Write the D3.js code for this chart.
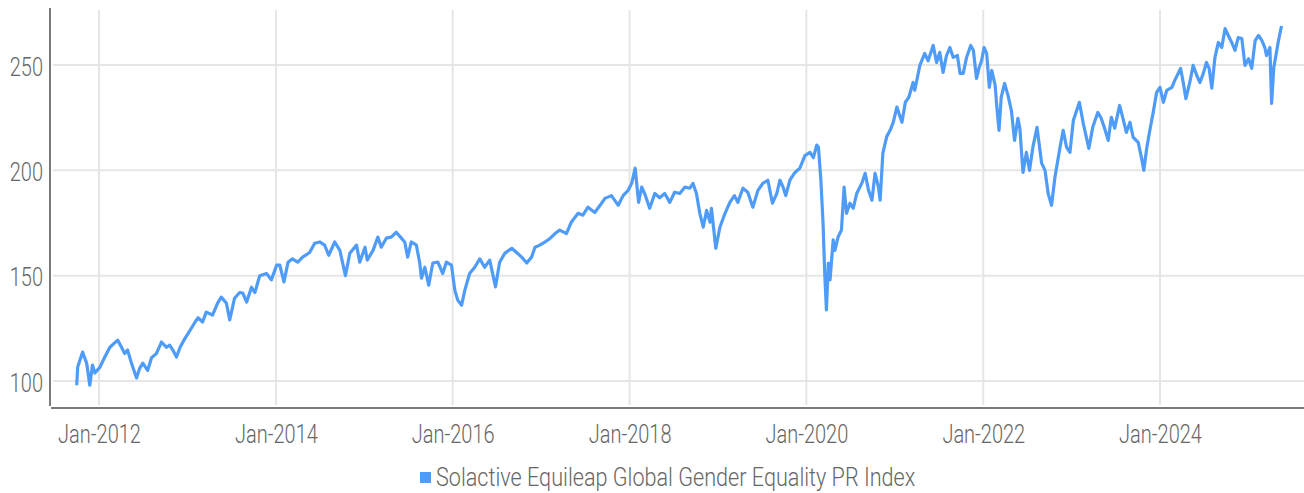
<!DOCTYPE html>
<html>
<head>
<meta charset="utf-8">
<script src="https://cdn.jsdelivr.net/npm/d3@7.9.0/dist/d3.min.js"></script>
<style>
  html, body { margin: 0; padding: 0; background: #fff; }
  svg { display: block; font-family: Roboto, 'Noto Sans', sans-serif; }
  .label { fill: #666; font-size: 25px; font-weight: 300; }
</style>
</head>
<body>
<svg id="chart" width="1304" height="493"></svg>
<script>
const seriesName = 'Solactive Equileap Global Gender Equality PR Index';
const yTicks = [100, 150, 200, 250];
const xTickYears = [2012, 2014, 2016, 2018, 2020, 2022, 2024];

// index level, roughly twice a month
const dates = [
  '2011-10-01', '2011-10-05', '2011-10-25', '2011-11-11', '2011-11-24', '2011-12-05', '2011-12-15',
  '2012-01-05', '2012-01-25', '2012-02-15', '2012-03-18', '2012-04-03', '2012-04-16', '2012-04-28', '2012-05-14',
  '2012-06-04', '2012-06-17', '2012-06-30', '2012-07-20', '2012-08-05', '2012-08-25', '2012-09-15', '2012-10-06',
  '2012-10-19', '2012-11-01', '2012-11-16', '2012-12-01', '2012-12-20',
  '2013-01-11', '2013-02-01', '2013-02-13', '2013-03-04', '2013-03-19', '2013-04-14', '2013-05-05', '2013-05-20',
  '2013-06-10', '2013-06-24', '2013-07-14', '2013-08-04', '2013-08-17', '2013-09-02', '2013-09-22', '2013-10-06',
  '2013-10-26', '2013-11-23', '2013-12-13',
  '2014-01-04', '2014-01-17', '2014-02-03', '2014-02-20', '2014-03-10', '2014-04-01', '2014-04-21', '2014-05-20',
  '2014-06-10', '2014-07-01', '2014-07-21', '2014-08-07', '2014-09-01', '2014-09-22', '2014-10-15', '2014-11-02',
  '2014-11-30', '2014-12-13',
  '2015-01-04', '2015-01-13', '2015-02-06', '2015-02-26', '2015-03-12', '2015-04-02', '2015-04-22', '2015-05-13',
  '2015-06-03', '2015-06-17', '2015-06-29', '2015-07-14', '2015-08-04', '2015-08-18', '2015-08-25', '2015-09-08',
  '2015-09-24', '2015-10-11', '2015-11-01', '2015-11-21', '2015-12-06', '2015-12-27',
  '2016-01-10', '2016-01-22', '2016-02-07', '2016-02-20', '2016-03-11', '2016-04-01', '2016-04-22', '2016-05-12',
  '2016-06-02', '2016-06-26', '2016-07-13', '2016-08-03', '2016-09-01', '2016-09-21', '2016-10-12', '2016-11-02',
  '2016-11-22', '2016-12-06', '2016-12-26',
  '2017-01-17', '2017-02-07', '2017-02-27', '2017-03-18', '2017-04-15', '2017-05-05', '2017-06-02', '2017-06-22',
  '2017-07-13', '2017-08-10', '2017-09-01', '2017-09-21', '2017-10-18', '2017-11-15', '2017-12-05', '2017-12-26',
  '2018-01-10', '2018-01-24', '2018-02-07', '2018-02-20', '2018-03-04', '2018-03-25', '2018-04-15', '2018-05-05',
  '2018-05-26', '2018-06-16', '2018-07-06', '2018-07-27', '2018-08-17', '2018-09-07', '2018-09-20', '2018-10-04',
  '2018-10-18', '2018-11-01', '2018-11-15', '2018-11-29', '2018-12-05', '2018-12-23',
  '2019-01-09', '2019-01-30', '2019-02-19', '2019-03-10', '2019-03-24', '2019-04-14', '2019-05-04', '2019-05-25',
  '2019-06-15', '2019-07-05', '2019-07-26', '2019-08-14', '2019-09-01', '2019-09-14', '2019-09-27', '2019-10-08',
  '2019-10-25', '2019-11-15', '2019-12-05', '2019-12-26',
  '2020-01-16', '2020-01-30', '2020-02-13', '2020-02-20', '2020-03-01', '2020-03-10', '2020-03-17', '2020-03-24',
  '2020-04-01', '2020-04-08', '2020-04-21', '2020-04-28', '2020-05-11', '2020-05-25', '2020-06-05', '2020-06-15',
  '2020-06-29', '2020-07-13', '2020-07-27', '2020-08-17', '2020-08-31', '2020-09-14', '2020-09-28', '2020-10-11',
  '2020-10-25', '2020-11-01', '2020-11-12', '2020-11-28', '2020-12-12', '2020-12-25',
  '2021-01-09', '2021-01-30', '2021-02-13', '2021-02-27', '2021-03-17', '2021-03-24', '2021-04-14', '2021-05-04',
  '2021-05-18', '2021-06-08', '2021-06-22', '2021-07-05', '2021-07-19', '2021-08-02', '2021-08-16', '2021-08-30',
  '2021-09-16', '2021-09-27', '2021-10-10', '2021-10-24', '2021-11-10', '2021-11-21', '2021-12-04', '2021-12-15',
  '2021-12-25',
  '2022-01-04', '2022-01-15', '2022-01-26', '2022-02-05', '2022-02-19', '2022-02-26', '2022-03-07', '2022-03-16',
  '2022-03-30', '2022-04-13', '2022-04-27', '2022-05-10', '2022-05-24', '2022-06-01', '2022-06-14', '2022-06-28',
  '2022-07-11', '2022-07-25', '2022-08-11', '2022-08-30', '2022-09-13', '2022-09-26', '2022-10-10', '2022-10-24',
  '2022-11-14', '2022-11-27', '2022-12-11', '2022-12-25',
  '2023-01-08', '2023-02-02', '2023-02-18', '2023-03-13', '2023-03-29', '2023-04-19', '2023-05-03', '2023-05-17',
  '2023-06-01', '2023-06-14', '2023-06-28', '2023-07-18', '2023-08-01', '2023-08-15', '2023-08-30', '2023-09-12',
  '2023-10-03', '2023-10-17', '2023-10-26', '2023-11-07', '2023-11-20', '2023-12-04', '2023-12-18',
  '2024-01-01', '2024-01-15', '2024-01-29', '2024-02-19', '2024-03-02', '2024-03-16', '2024-03-26', '2024-04-06',
  '2024-04-17', '2024-05-03', '2024-05-17', '2024-06-01', '2024-06-14', '2024-06-28', '2024-07-11', '2024-07-22',
  '2024-08-02', '2024-08-15', '2024-08-29', '2024-09-12', '2024-09-26', '2024-10-09', '2024-10-23', '2024-11-06',
  '2024-11-19', '2024-12-04', '2024-12-17',
  '2025-01-01', '2025-01-14', '2025-01-28', '2025-02-11', '2025-02-25', '2025-03-09', '2025-03-16', '2025-03-30',
  '2025-04-06', '2025-04-15', '2025-04-26', '2025-05-03', '2025-05-13', '2025-05-17',
];

const values = [
  98, 106.6, 113.7, 108.5, 98, 107.6, 103.8,
  106.6, 111.4, 116, 119.4, 116, 113, 114.7, 108.5,
  101.4, 106, 108.5, 105, 111, 113, 118.5, 116,
  117, 114.7, 111.4, 116, 120,
  124, 128, 130, 128, 132.7, 131.3, 137, 139.8,
  137, 129, 139.3, 142, 141.7, 137.5, 144.5, 142,
  150, 151, 148,
  155, 155, 147, 156.4, 158, 156.4, 158.8, 161,
  165.4, 166, 164.5, 159.7, 166, 162, 150, 160.6,
  164.5, 156.4,
  163.5, 157.4, 162, 168.3, 163.5, 167.8, 168.3, 170.6,
  167.8, 166, 158.8, 166, 164.5, 156, 148.8, 154,
  145.5, 156, 156.4, 151, 156.4, 155,
  143, 138.4, 136, 143, 151, 154, 158, 154,
  157.4, 144.7, 156.4, 160.6, 163, 161, 158.8, 156,
  158.8, 163.5, 164.5,
  166, 167.8, 170, 171.6, 170, 175.4, 179.6, 178.7,
  182.5, 180, 183.4, 186.7, 188, 183.4, 188, 190.5,
  194, 201, 184.8, 192, 189, 182, 189, 187,
  189, 184.8, 189.6, 189, 192, 191.5, 193.8, 189,
  179.6, 173, 181, 175.4, 182, 163,
  173, 179.6, 184.8, 188, 184.8, 191.5, 189.6, 182.5,
  190.5, 193.8, 195.3, 184.4, 189, 195.3, 192, 188,
  195.3, 199, 201, 207,
  208.5, 206, 212, 211, 195.3, 175, 151, 133.7,
  156, 148, 167, 162, 168.3, 171.6, 192, 179.6,
  184.4, 182, 189, 193.8, 198.6, 190.5, 185.8, 198.6,
  192, 185.8, 208, 216, 219, 222.8,
  230, 222.8, 232.3, 234.6, 241.7, 238, 249.8, 255.5,
  252, 259.3, 251.2, 256, 246.5, 254.5, 258.3, 253.6,
  254.5, 246, 246, 253.6, 259.3, 257, 243.6, 248.8,
  252,
  258.3, 255.5, 239.4, 247.4, 240.3, 230, 219, 234.6,
  241.3, 235.6, 228.5, 214.2, 224.7, 220, 199, 208.5,
  200, 211, 220.4, 203.4, 200, 189, 183.4, 196.7,
  211, 219, 211, 208.5,
  223.7, 232.3, 222.3, 210.4, 220.4, 227.5, 224.7, 220,
  214.2, 225.2, 220, 230.8, 224.7, 218, 222.8, 215.7,
  213.3, 205.7, 200, 210.4, 219, 227.5, 237,
  239.4, 232.3, 238, 239.4, 242.7, 246, 248.4, 241.7,
  234, 241.7, 249.8, 245, 241.7, 246, 251.2, 248.4,
  239, 253.6, 260.7, 258.3, 267.3, 264, 260.7, 257,
  263, 262.6, 249.8,
  253, 248.4, 261.6, 264, 261.6, 258.3, 254.5, 258.3,
  231.8, 248.8, 256, 260.7, 266.4, 268.5,
];

const parseDate = d3.timeParse('%Y-%m-%d');
const data = dates.map((d, i) => ({ date: parseDate(d), value: values[i] }));

const plot = { left: 50, right: 1304, top: 8, bottom: 408 };
const lineColor = '#4f9cf8';
const condense = 0.8;
const legendCondense = 0.865;

const svg = d3.select('#chart');

const x = d3.scaleTime()
  .domain([new Date(2012, 0, 1), new Date(2024, 0, 1)])
  .range([99, 1160]);

const y = d3.scaleLinear()
  .domain([100, 250])
  .range([381, 65]);

const xTicks = xTickYears.map((yr) => new Date(yr, 0, 1));

// gridlines
svg.append('g')
  .selectAll('line')
  .data(xTicks)
  .join('line')
  .attr('x1', (d) => x(d))
  .attr('x2', (d) => x(d))
  .attr('y1', plot.top + 2)
  .attr('y2', plot.bottom - 3)
  .attr('stroke', '#e6e6e6')
  .attr('stroke-width', 2);

svg.append('g')
  .selectAll('line')
  .data(yTicks)
  .join('line')
  .attr('x1', plot.left + 3)
  .attr('x2', plot.right)
  .attr('y1', (d) => y(d))
  .attr('y2', (d) => y(d))
  .attr('stroke', '#e6e6e6')
  .attr('stroke-width', 2);

// axis lines
svg.append('line')
  .attr('x1', plot.left).attr('x2', plot.left)
  .attr('y1', plot.top).attr('y2', plot.bottom - 2)
  .attr('stroke', '#7a7a7a')
  .attr('stroke-width', 2);

svg.append('line')
  .attr('x1', plot.left + 1).attr('x2', plot.right)
  .attr('y1', plot.bottom).attr('y2', plot.bottom)
  .attr('stroke', '#7a7a7a')
  .attr('stroke-width', 2);

// tick labels
const xAxis = svg.append('g')
  .attr('transform', `translate(0,${plot.bottom})`)
  .call(d3.axisBottom(x)
    .tickValues(xTicks)
    .tickFormat(d3.timeFormat('%b-%Y'))
    .tickSize(0)
    .tickPadding(17));

const yAxis = svg.append('g')
  .attr('transform', `translate(${plot.left},2)`)
  .call(d3.axisLeft(y)
    .tickValues(yTicks)
    .tickSize(0)
    .tickPadding(7 / condense));

[xAxis, yAxis].forEach((g) => {
  g.select('.domain').remove();
  g.attr('font-family', null).attr('font-size', null);
  g.selectAll('text')
    .attr('class', 'label')
    .attr('fill', null)
    .attr('transform', `scale(${condense},1)`);
});

// series line
const line = d3.line()
  .x((d) => x(d.date))
  .y((d) => y(d.value));

svg.append('path')
  .datum(data)
  .attr('d', line)
  .attr('fill', 'none')
  .attr('stroke', lineColor)
  .attr('stroke-width', 3.2)
  .attr('stroke-linejoin', 'round');

// legend
const legend = svg.append('g');
legend.append('rect')
  .attr('x', 420)
  .attr('y', 472)
  .attr('width', 11)
  .attr('height', 11)
  .attr('fill', lineColor);

legend.append('g')
  .attr('transform', `translate(436,486) scale(${legendCondense},1)`)
  .append('text')
  .attr('class', 'label')
  .text(seriesName);
</script>
</body>
</html>
